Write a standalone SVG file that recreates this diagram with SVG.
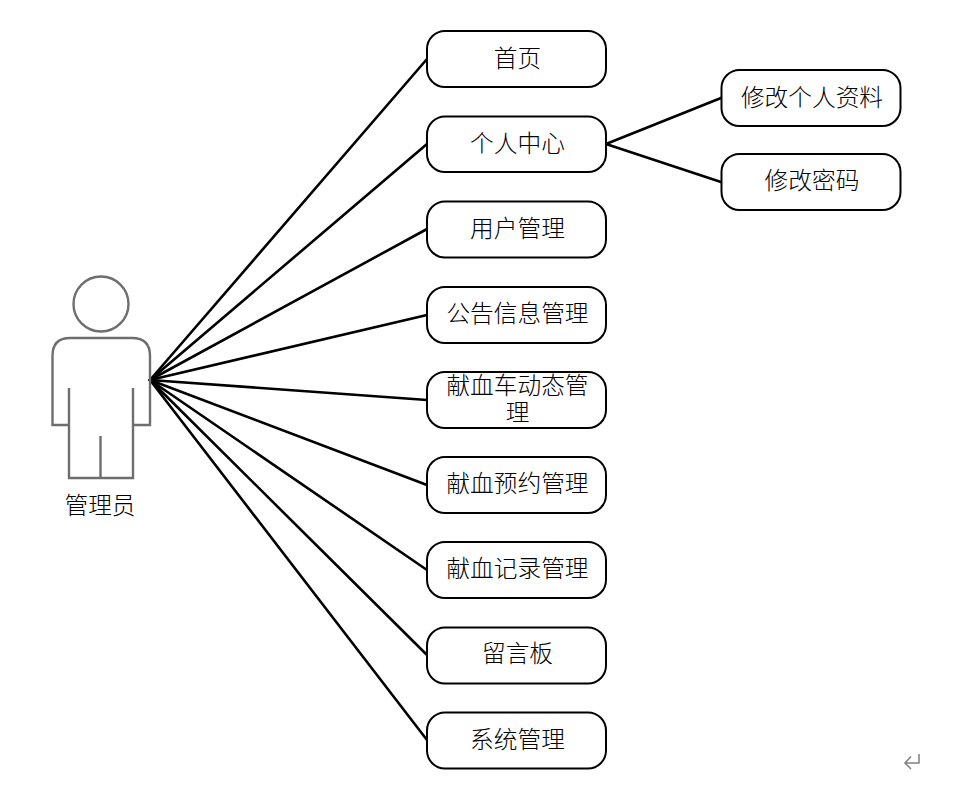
<svg xmlns="http://www.w3.org/2000/svg" width="960" height="785" viewBox="0 0 960 785">
<style>
.bg{fill:#fff}
.n rect{fill:#fff;stroke:#000;stroke-width:2}
text{font-family:"Noto Sans CJK SC","Noto Sans CJK JP",sans-serif;font-size:23.7px;font-weight:300;fill:#000;text-anchor:middle}
#connectors line{stroke:#000;stroke-width:2.6;stroke-linecap:round}
.actor{fill:none;stroke:#6e6e6e;stroke-width:2.4}
</style>
<rect class="bg" width="960" height="785"/>
<g id="connectors">
<line x1="150" y1="380" x2="427" y2="59"/>
<line x1="150" y1="380" x2="427" y2="144"/>
<line x1="150" y1="380" x2="427" y2="229"/>
<line x1="150" y1="380" x2="427" y2="315"/>
<line x1="150" y1="380" x2="427" y2="400"/>
<line x1="150" y1="380" x2="427" y2="485"/>
<line x1="150" y1="380" x2="427" y2="570"/>
<line x1="150" y1="380" x2="427" y2="655"/>
<line x1="150" y1="380" x2="427" y2="740"/>
<line x1="606" y1="144" x2="721" y2="98"/>
<line x1="606" y1="144" x2="721" y2="182"/>
</g>
<g id="actor">
<circle class="actor" cx="101" cy="304" r="27.5"/>
<path class="actor" d="M69 388V425H52.500V356Q52.500 338 70 338H132Q150 338 150 356V425H133V388M69 425V478H133V425M100.500 436V478"/>
<text x="100" y="514">管理员</text>
</g>
<g id="n1" class="n"><rect x="427" y="31" width="179" height="56" rx="18"/><text x="517.500" y="67">首页</text></g>
<g id="n2" class="n"><rect x="427" y="116.500" width="179" height="55.500" rx="18"/><text x="517.500" y="152">个人中心</text></g>
<g id="n3" class="n"><rect x="427" y="201.500" width="179" height="56" rx="18"/><text x="517.500" y="237">用户管理</text></g>
<g id="n4" class="n"><rect x="427" y="287" width="179" height="56" rx="18"/><text x="517.500" y="322">公告信息管理</text></g>
<g id="n5" class="n"><rect x="427" y="372" width="179" height="56" rx="18"/><text x="517.500" y="394">献血车动态管</text><text x="517.500" y="421">理</text></g>
<g id="n6" class="n"><rect x="427" y="457" width="179" height="56" rx="18"/><text x="517.500" y="492">献血预约管理</text></g>
<g id="n7" class="n"><rect x="427" y="542" width="179" height="56" rx="18"/><text x="517.500" y="577">献血记录管理</text></g>
<g id="n8" class="n"><rect x="427" y="627.500" width="179" height="56" rx="18"/><text x="517.500" y="662">留言板</text></g>
<g id="n9" class="n"><rect x="427" y="712.500" width="179" height="56" rx="18"/><text x="517.500" y="748">系统管理</text></g>
<g id="n10" class="n"><rect x="721.500" y="70" width="179" height="56" rx="18"/><text x="812" y="106">修改个人资料</text></g>
<g id="n11" class="n"><rect x="721.500" y="154" width="179" height="56" rx="18"/><text x="812" y="189">修改密码</text></g>
<path d="M919 754V763H905M911 756.500L905 763L911 769" fill="none" stroke="#808080" stroke-width="1.500"/>
</svg>
